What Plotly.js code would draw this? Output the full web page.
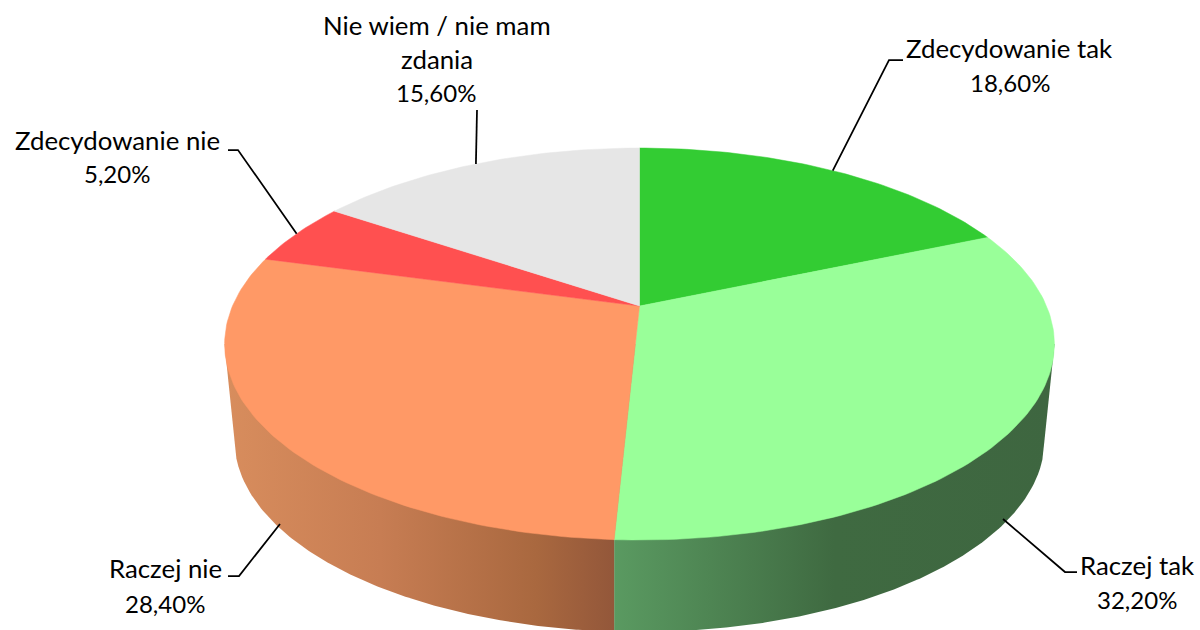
<!DOCTYPE html>
<html><head><meta charset="utf-8">
<script src="https://cdn.plot.ly/plotly-3.0.1.min.js"></script>
<style>html,body{margin:0;padding:0;background:#fff}#chart{width:1200px;height:630px}</style>
</head><body><div id="chart"></div>
<script>
// ---- data ----
const categories = ['Zdecydowanie tak', 'Raczej tak', 'Raczej nie', 'Zdecydowanie nie', 'Nie wiem / nie mam zdania'];
const shares = [18.6, 32.2, 28.4, 5.2, 15.6];
const faceColors = ['#33cc33', '#99ff99', '#ff9966', '#ff5050', '#e6e6e6'];

// ---- pie geometry (perspective view of a disc, in axis units = px) ----
const CX = 639.5, CY = 306, PA = 188.6, PB = 407, PC = 0.194;
const BOT = {cy: 440, rx: 405, ry: 192};
const EDGE = {top: 344, half: 415};
function project(frac, r) {
  const t = frac * 2 * Math.PI, u = r * Math.sin(t), v = r * Math.cos(t), d = 1 + PC * v;
  return [CX + PB * u / d, CY - PA * v / d];
}
function cumulative(i) { return shares.slice(0, i).reduce((a, b) => a + b, 0) / 100; }

// ---- walls ----
const splitX = project(cumulative(2), 1)[0];
function bottomArc(x0, x1, n) {
  const xs = [], ys = [];
  for (let k = 0; k <= n; k++) {
    const x = x0 + (x1 - x0) * k / n;
    const q = (x - CX) / BOT.rx;
    xs.push(x);
    ys.push(BOT.cy + BOT.ry * Math.sqrt(Math.max(0, 1 - q * q)));
  }
  return [xs, ys];
}
function wall(x0, side, scale) {
  const [xs, ys] = bottomArc(x0, CX + side * BOT.rx, 200);
  xs.push(CX + side * EDGE.half, x0); ys.push(EDGE.top, EDGE.top);
  xs.push(x0); ys.push(ys[0]);
  return {x: xs, y: ys, type: 'scatter', mode: 'lines', line: {width: 0}, fill: 'toself',
          fillgradient: {type: 'horizontal', colorscale: scale},
          hoverinfo: 'skip', showlegend: false};
}
const traces = [
  wall(splitX, 1, [[0, '#5a9a61'], [0.5, '#3f6a41'], [1, '#3e6640']]),
  wall(splitX, -1, [[0, '#d88d5d'], [0.4, '#c77d53'], [0.8, '#a9683f'], [1, '#93573a']])
];

// ---- top faces ----
categories.forEach((name, i) => {
  const a = cumulative(i), b = cumulative(i + 1), n = Math.ceil((b - a) * 360);
  const xs = [CX], ys = [CY];
  for (let k = 0; k <= n; k++) {
    const p = project(a + (b - a) * k / n, 1);
    xs.push(p[0]); ys.push(p[1]);
  }
  xs.push(CX); ys.push(CY);
  traces.push({x: xs, y: ys, type: 'scatter', mode: 'lines', name: name, fill: 'toself',
               fillcolor: faceColors[i], line: {width: 0.5, color: faceColors[i]},
               hoverinfo: 'name', showlegend: false});
});

// ---- labels ----
const family = 'Lato, Carlito, Calibri, sans-serif';
const nameFont = {family, size: 25.8, color: '#000'};
const valueFont = {family, size: 24, color: '#000'};
const pct = i => shares[i].toFixed(2).replace('.', ',') + '%';
const labelLines = [
  [1009, 48, categories[0], nameFont], [1010, 82, pct(0), valueFont],
  [1137, 565, categories[1], nameFont], [1137, 599, pct(1), valueFont],
  [165.5, 568, categories[2], nameFont], [165, 603, pct(2), valueFont],
  [117, 140, categories[3], nameFont], [117, 173, pct(3), valueFont],
  [437, 25, 'Nie wiem / nie mam', nameFont], [437, 59, 'zdania', nameFont], [436, 92, pct(4), valueFont]
];
const annotations = labelLines.map(([x, y, text, font]) => ({
  x, y, text, font, xref: 'x', yref: 'y', showarrow: false, xanchor: 'center', yanchor: 'middle'
}));

// ---- leader lines ----
function mid(i) { return project((cumulative(i) + cumulative(i + 1)) / 2, 1); }
const leaderPaths = [
  [mid(0), [889, 60], [903, 60]],
  [[1003, 519], [1065, 572], [1077, 572]],
  [[280, 524], [239, 576], [228, 576]],
  [mid(3), [238, 150], [228, 150]],
  [mid(4), [477, 110]]
];
const shapes = leaderPaths.map(pts => ({
  type: 'path', xref: 'x', yref: 'y',
  path: 'M' + pts.map(p => p[0] + ',' + p[1]).join('L'),
  line: {color: '#000', width: 1.75}
}));

Plotly.newPlot('chart', traces, {
  width: 1200, height: 630, margin: {l: 0, r: 0, t: 0, b: 0},
  paper_bgcolor: '#fff', plot_bgcolor: '#fff', showlegend: false,
  xaxis: {range: [0, 1200], visible: false, fixedrange: true},
  yaxis: {range: [630, 0], visible: false, fixedrange: true},
  annotations, shapes
}, {displayModeBar: false});
</script></body></html>
